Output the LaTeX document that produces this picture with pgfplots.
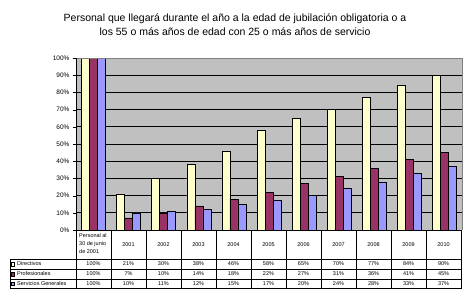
\documentclass[border=0pt]{standalone}
\usepackage{pgfplots}
\pgfplotsset{compat=1.18}
\usepackage{pgfplotstable}
\usepackage{fontspec}
\setmainfont{Liberation Sans}

\definecolor{fondo}{HTML}{C0C0C0}
\definecolor{cdir}{HTML}{FFFFCC}
\definecolor{cprof}{HTML}{993366}
\definecolor{cserv}{HTML}{9999FF}

% personal que llega a la edad de jubilacion (%)
\pgfplotstableread{
x  dir prof serv
0  100 100  100
1  21  7    10
2  30  10   11
3  38  14   12
4  46  18   15
5  58  22   17
6  65  27   20
7  70  31   24
8  77  36   28
9  84  41   33
10 90  45   37
}\datos

\begin{document}
\begin{tikzpicture}[x=1pt,y=1pt]
\path[use as bounding box] (-76,-71) rectangle (395,230);

\node[align=center, font=\fontsize{10.5}{14}\selectfont] at (159,205)
  {Personal que llegará durante el año a la edad de jubilación obligatoria o a\\
   los 55 o más años de edad con 25 o más años de servicio};

\begin{axis}[
    at={(0,0)}, anchor=south west,
    width=386pt, height=172pt, scale only axis,
    xmin=-0.5, xmax=10.5, ymin=0, ymax=100,
    ybar=0pt, bar width=8pt,
    axis background/.style={fill=fondo},
    axis line style={draw=none},
    xtick=\empty,
    ytick={0,10,...,100},
    ymajorgrids, grid style={black, line width=0.8pt},
    ytick pos=left, tick align=outside, major tick length=3pt,
    tick style={black},
    yticklabel={\pgfmathprintnumber{\tick}\%},
    yticklabel style={font=\fontsize{6.5}{7}\selectfont},
    /pgf/number format/assume math mode=true,
  ]
  \addplot[fill=cdir, draw=black, line width=0.6pt] table[x=x, y=dir] {\datos};
  \addplot[fill=cprof, draw=black, line width=0.6pt] table[x=x, y=prof] {\datos};
  \addplot[fill=cserv, draw=black, line width=0.6pt] table[x=x, y=serv] {\datos};
\end{axis}

% marco
\draw[gray, line width=0.8pt] (0,172) -- (386,172) -- (386,0);
\draw[black, line width=0.8pt] (0,0) -- (0,172);

% tabla de datos
\begin{scope}[line width=0.6pt, black]
  \draw (0,0) -- (386,0);
  \foreach \yy in {-29,-39,-49,-58} \draw (-66,\yy) -- (386,\yy);
  \foreach \k in {0,...,11} \draw (35*\k,0) -- (35*\k,-58);
  \draw (-66,-29) -- (-66,-58);
\end{scope}

\node[anchor=north west, align=left, inner sep=0pt, font=\fontsize{5.5}{8}\selectfont] at (3,-3)
  {Personal al\\30 de junio\\de 2001};
\foreach \k/\anio in {1/2001,2/2002,3/2003,4/2004,5/2005,6/2006,7/2007,8/2008,9/2009,10/2010}
  \node[font=\fontsize{5.5}{6}\selectfont] at (35*\k+17.5,-14.5) {\anio};

\foreach \i in {0,...,10} {
  \pgfplotstablegetelem{\i}{dir}\of\datos
  \node[font=\fontsize{5.5}{6}\selectfont] at (35*\i+17.5,-34) {\pgfplotsretval\%};
  \pgfplotstablegetelem{\i}{prof}\of\datos
  \node[font=\fontsize{5.5}{6}\selectfont] at (35*\i+17.5,-44) {\pgfplotsretval\%};
  \pgfplotstablegetelem{\i}{serv}\of\datos
  \node[font=\fontsize{5.5}{6}\selectfont] at (35*\i+17.5,-53.5) {\pgfplotsretval\%};
}

% leyenda
\foreach \yy/\col/\nom in {-34/cdir/Directivos,-44/cprof/Profesionales,-53.5/cserv/Servicios Generales} {
  \draw[fill=\col, line width=0.4pt] (-65,\yy-1.8) rectangle (-61.5,\yy+1.7);
  \node[anchor=west, inner sep=0pt, font=\fontsize{5.5}{6}\selectfont] at (-59,\yy) {\nom};
}
\end{tikzpicture}
\end{document}
